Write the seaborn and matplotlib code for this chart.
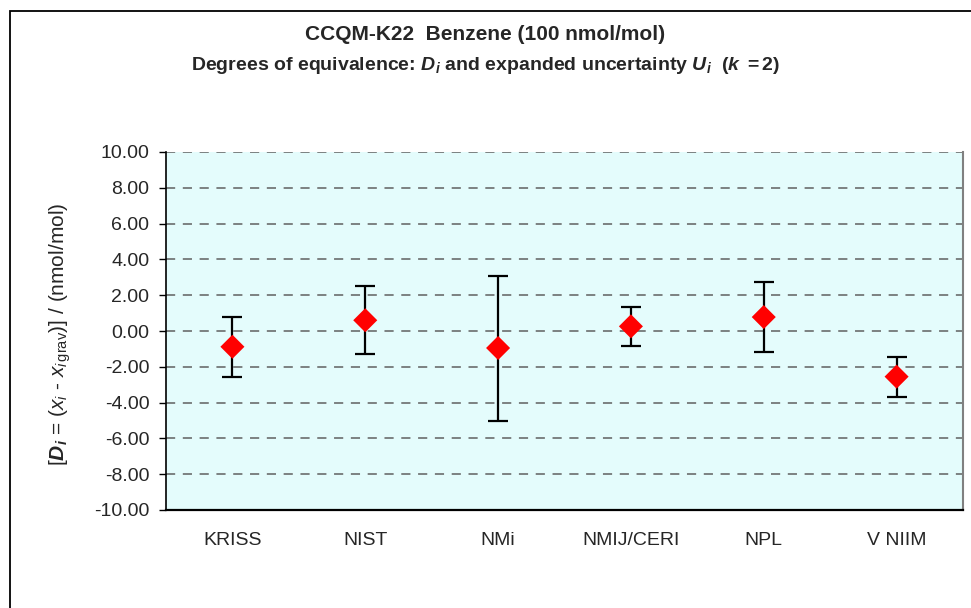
import numpy as np
import matplotlib
matplotlib.use("Agg")
import matplotlib.pyplot as plt
import seaborn as sns
from matplotlib.patches import Rectangle

# data
labs = ["KRISS", "NIST", "NMi", "NMIJ/CERI", "NPL", "V NIIM"]
d_vals = [-0.88, 0.60, -0.95, 0.26, 0.78, -2.55]
u_vals = [1.67, 1.90, 4.05, 1.10, 1.94, 1.12]
yticks = [-10, -8, -6, -4, -2, 0, 2, 4, 6, 8, 10]

sns.set_style("white")
plt.rcParams["font.family"] = ["Liberation Sans", "DejaVu Sans"]
plt.rcParams["mathtext.fontset"] = "custom"
plt.rcParams["mathtext.rm"] = "Liberation Sans"
plt.rcParams["mathtext.it"] = "Liberation Sans:italic"
plt.rcParams["mathtext.bf"] = "Liberation Sans:bold"
plt.rcParams["mathtext.bfit"] = "Liberation Sans:bold:italic"

fig = plt.figure(figsize=(9.71, 6.08), dpi=100)
ax = fig.add_axes([166 / 971, 1 - 510 / 608, (963 - 166) / 971, (510 - 152) / 608])
ax.set_facecolor("#e4fcfc")

x = np.arange(len(labs))
ax.errorbar(x, d_vals, yerr=u_vals, fmt="none", ecolor="black",
            elinewidth=1.6, capsize=7, capthick=1.6, zorder=3)
sns.scatterplot(x=x, y=d_vals, marker="D", s=150, color="red",
                edgecolor="none", ax=ax, zorder=4, legend=False)

ax.set_xlim(-0.5, len(labs) - 0.5)
ax.set_ylim(-10, 10)
ax.set_yticks(yticks)
ax.set_yticklabels([f"{v:.2f}" for v in yticks], fontsize=14)
ax.set_xticks(x)
ax.set_xticklabels(labs, fontsize=14)
ax.set_xticks(np.arange(len(labs) + 1) - 0.5, minor=True)
ax.tick_params(axis="x", which="major", length=0, pad=16)
ax.tick_params(axis="x", which="minor", length=5, color="black", width=1, direction="out")
ax.tick_params(axis="y", length=5, width=1, color="black", direction="out", left=True, pad=7)

for yv in yticks[1:]:
    ax.axhline(yv, color="#606060", lw=1.1, ls=(0, (6, 5)), zorder=1)

ax.spines["top"].set_visible(False)
ax.spines["right"].set_color("#808080")
ax.spines["right"].set_linewidth(1.5)
ax.spines["left"].set_color("black")
ax.spines["left"].set_linewidth(1.2)
ax.spines["bottom"].set_color("black")
ax.spines["bottom"].set_linewidth(1.6)

ax.set_ylabel(r"[$\mathbfit{D}_{\mathbfit{i}}$ = ($x_i$ - $x_{i\,\mathrm{grav}}$)] / (nmol/mol)",
              fontsize=15)
ax.yaxis.set_label_coords(-0.117, 0.49)

fig.text(0.5, 1 - 34 / 608, "CCQM-K22  Benzene (100 nmol/mol)", ha="center", va="center",
         fontsize=15, fontweight="bold")
fig.text(0.5, 1 - 65 / 608,
         r"Degrees of equivalence: $\mathbfit{D}_{\mathbfit{i}}$ and expanded uncertainty "
         r"$\mathbfit{U}_{\mathbfit{i}}$  ($\mathbfit{k}$ $\mathbf{= 2}$)",
         ha="center", va="center", fontsize=14, fontweight="bold")

fig.patches.append(Rectangle((10 / 971, -0.05), 1.0, 1 - 11 / 608 + 0.05,
                             transform=fig.transFigure, fill=False,
                             edgecolor="black", lw=1.3))

fig.savefig("out.png", dpi=100)
